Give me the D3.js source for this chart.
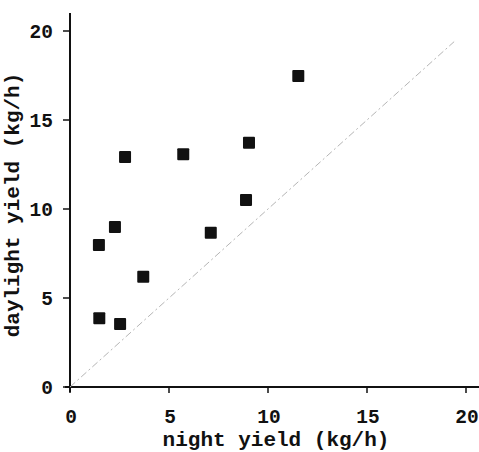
<!DOCTYPE html>
<html>
<head>
  <meta charset="utf-8">
  <script src="https://d3js.org/d3.v7.min.js"></script>
  <style>
    body { margin: 0; background: #fff; }
    text { font-family: "Liberation Mono", "Courier New", monospace; font-weight: bold; fill: #111; }
  </style>
</head>
<body>
  <div id="chart"></div>
  <script>
    // night vs daylight yield, kg/h
    var night    = [1.46, 2.27, 2.78, 1.48, 2.53, 3.70, 5.72, 7.11, 8.89, 9.04, 11.53];
    var daylight = [7.98, 8.99, 12.92, 3.86, 3.54, 6.20, 13.07, 8.67, 10.51, 13.72, 17.47];
    var xTicks = [0, 5, 10, 15, 20];
    var yTicks = [0, 5, 10, 15, 20];
    var diagonal = [0, 19.4];

    var W = 479, H = 452;
    var svg = d3.select("#chart").append("svg")
        .attr("width", W).attr("height", H);

    var x = d3.scaleLinear().domain([0, 20]).range([70, 466]);
    var y = d3.scaleLinear().domain([0, 20]).range([387, 31]);

    // axis lines
    svg.append("line")
        .attr("x1", 65).attr("x2", W)
        .attr("y1", y(0)).attr("y2", y(0))
        .attr("stroke", "#111").attr("stroke-width", 2);
    svg.append("line")
        .attr("x1", x(0)).attr("x2", x(0))
        .attr("y1", 13).attr("y2", 392)
        .attr("stroke", "#111").attr("stroke-width", 2);

    // x ticks
    svg.selectAll(".xt").data(xTicks).enter().append("line")
        .attr("x1", d => x(d)).attr("x2", d => x(d))
        .attr("y1", y(0)).attr("y2", y(0) + 6)
        .attr("stroke", "#111").attr("stroke-width", 1.5);
    svg.selectAll(".xl").data(xTicks).enter().append("text")
        .attr("x", d => x(d) + 1).attr("y", 423)
        .attr("text-anchor", "middle")
        .style("font-size", "19.5px")
        .text(d => d);

    // y ticks
    svg.selectAll(".yt").data(yTicks).enter().append("line")
        .attr("x1", x(0) - 7).attr("x2", x(0))
        .attr("y1", d => y(d)).attr("y2", d => y(d))
        .attr("stroke", "#111").attr("stroke-width", 1.5);
    svg.selectAll(".yl").data(yTicks).enter().append("text")
        .attr("x", 53).attr("y", d => y(d))
        .attr("dy", "0.35em")
        .attr("text-anchor", "end")
        .style("font-size", "19.5px")
        .text(d => d);

    // 1:1 line
    svg.append("line")
        .attr("x1", x(diagonal[0])).attr("y1", y(diagonal[0]))
        .attr("x2", x(diagonal[1])).attr("y2", y(diagonal[1]))
        .attr("stroke", "#b5b5b5").attr("stroke-width", 1)
        .attr("stroke-dasharray", "7,3,2,3");

    // points
    var s = 12;
    svg.selectAll(".pt").data(night).enter().append("rect")
        .attr("x", (d, i) => x(d) - s / 2)
        .attr("y", (d, i) => y(daylight[i]) - s / 2)
        .attr("width", s).attr("height", s)
        .attr("rx", 1)
        .attr("fill", "#111");

    // axis titles
    svg.append("text")
        .attr("x", 276).attr("y", 446)
        .attr("text-anchor", "middle")
        .style("font-size", "21px")
        .text("night yield (kg/h)");
    svg.append("text")
        .attr("transform", "translate(19,205) rotate(-90)")
        .attr("text-anchor", "middle")
        .style("font-size", "21px")
        .text("daylight yield (kg/h)");
  </script>
</body>
</html>
